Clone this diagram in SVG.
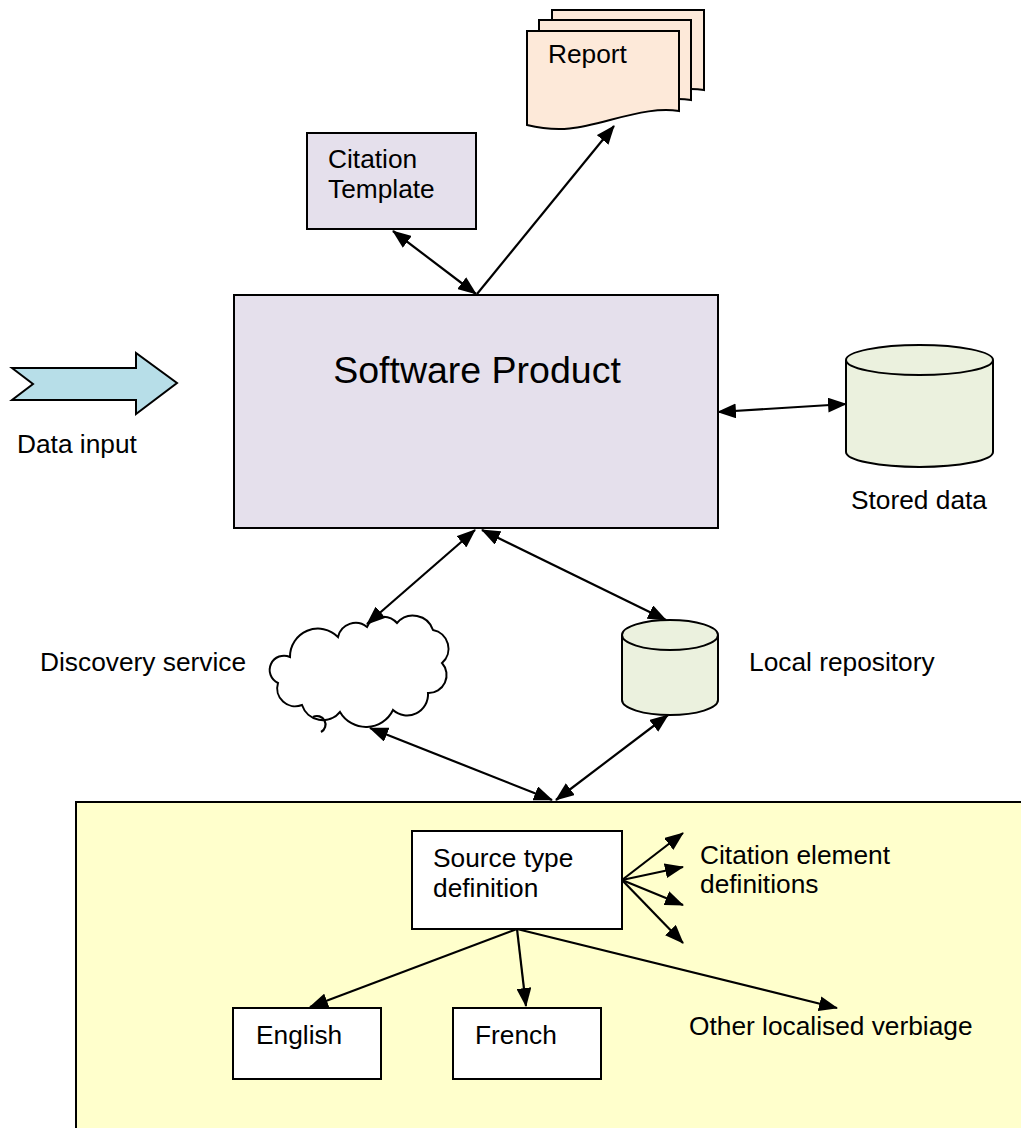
<svg xmlns="http://www.w3.org/2000/svg" width="1021" height="1128" viewBox="0 0 1021 1128">
<style>
text{font-family:"Liberation Sans",Arial,sans-serif;font-size:26.3px;fill:#000}
.s{stroke:#000;stroke-width:2}
.c{stroke:#000;stroke-width:2.2;fill:none}
</style>
<defs>
<marker id="ah" markerUnits="userSpaceOnUse" markerWidth="19" markerHeight="15" refX="18" refY="7.5" orient="auto-start-reverse"><path d="M0,0 L19,7.5 L0,15 z" fill="#000"/></marker>
</defs>
<rect width="1021" height="1128" fill="#fff"/>
<g id="bottom-area"><rect x="76" y="802" width="960" height="340" fill="#FFFFCC" class="s"/></g>
<g id="report">
<path transform="translate(25,-21)" d="M527,31 H679 V111 C660,108 640,112 610,120 C580,128 560,133 527,125 Z" fill="#FDE9D9" class="s"/>
<path transform="translate(12,-11)" d="M527,31 H679 V111 C660,108 640,112 610,120 C580,128 560,133 527,125 Z" fill="#FDE9D9" class="s"/>
<path d="M527,31 H679 V111 C660,108 640,112 610,120 C580,128 560,133 527,125 Z" fill="#FDE9D9" class="s"/>
<text x="548" y="63">Report</text>
</g>
<g id="citation-template">
<rect x="307" y="133" width="169" height="96" fill="#E5E0EC" class="s"/>
<text x="328" y="168">Citation</text>
<text x="328" y="198">Template</text>
</g>
<g id="software-product">
<rect x="234" y="295" width="484" height="233" fill="#E5E0EC" class="s"/>
<text x="477" y="383" text-anchor="middle" style="font-size:37.5px">Software Product</text>
</g>
<g id="data-input">
<path d="M12,368 L33,384 L12,400 L136,400 L136,414 L177,383 L136,353 L136,368 Z" fill="#B7DEE8" class="s"/>
<text x="17" y="453">Data input</text>
</g>
<g id="stored-data">
<path d="M846,360 V452 A73.5,15 0 0 0 993,452 V360" fill="#EBF1DE" class="s"/>
<ellipse cx="919.5" cy="360" rx="73.5" ry="15" fill="#EBF1DE" class="s"/>
<text x="851" y="509">Stored data</text>
</g>
<g id="discovery-service">
<path d="M290,657 A14,14 0 1 0 278,683 A18,18 0 0 0 302,705 A22,22 0 0 0 340,712 A30,30 0 0 0 393,710 A21,21 0 0 0 428,693 A18,18 0 0 0 442,663 A19,19 0 0 0 433,630 A21,21 0 0 0 397,623 A18,18 0 0 0 367,627 A18,18 0 0 0 338,637 A28,28 0 0 0 290,657 Z" fill="#fff" class="s"/>
<path d="M313,717 A7,7 0 0 1 321,732" class="c"/>
<text x="40" y="671">Discovery service</text>
</g>
<g id="local-repository">
<path d="M622,635 V700 A48,15 0 0 0 718,700 V635" fill="#EBF1DE" class="s"/>
<ellipse cx="670" cy="635" rx="48" ry="15" fill="#EBF1DE" class="s"/>
<text x="749" y="671">Local repository</text>
</g>
<g id="source-type-definition">
<rect x="412" y="831" width="210" height="98" fill="#fff" class="s"/>
<text x="433" y="867">Source type</text>
<text x="433" y="897">definition</text>
</g>
<g id="citation-element-definitions">
<text x="700" y="864">Citation element</text>
<text x="700" y="893">definitions</text>
</g>
<g id="english">
<rect x="233" y="1008" width="148" height="71" fill="#fff" class="s"/>
<text x="256" y="1044">English</text>
</g>
<g id="french">
<rect x="453" y="1008" width="148" height="71" fill="#fff" class="s"/>
<text x="475" y="1044">French</text>
</g>
<g id="other-localised">
<text x="689" y="1035">Other localised verbiage</text>
</g>
<g id="connectors" class="c" marker-end="url(#ah)">
<line x1="476" y1="294" x2="393" y2="231" marker-start="url(#ah)"/>
<line x1="477" y1="294" x2="614" y2="126"/>
<line x1="718" y1="412" x2="846" y2="404" marker-start="url(#ah)"/>
<line x1="475" y1="530" x2="367" y2="624" marker-start="url(#ah)"/>
<line x1="482" y1="530" x2="666" y2="620" marker-start="url(#ah)"/>
<line x1="370" y1="728" x2="552" y2="800" marker-start="url(#ah)"/>
<line x1="668" y1="715" x2="556" y2="800" marker-start="url(#ah)"/>
<line x1="622" y1="880" x2="683" y2="833"/>
<line x1="622" y1="880" x2="683" y2="867"/>
<line x1="622" y1="880" x2="683" y2="905"/>
<line x1="622" y1="880" x2="683" y2="943"/>
<line x1="517" y1="929" x2="310" y2="1007"/>
<line x1="517" y1="929" x2="526" y2="1006"/>
<line x1="517" y1="929" x2="837" y2="1008"/>
</g>
</svg>
